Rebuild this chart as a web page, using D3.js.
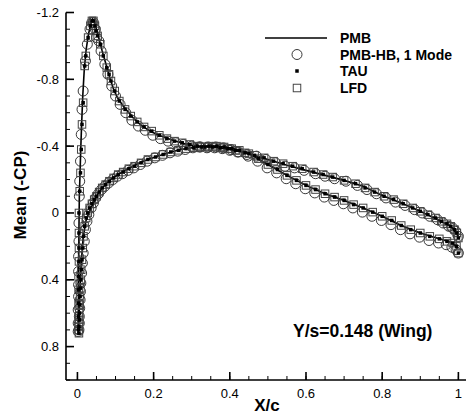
<!DOCTYPE html>
<html><head><meta charset="utf-8">
<script src="https://cdn.jsdelivr.net/npm/d3@7/dist/d3.min.js"></script>
<style>
html,body{margin:0;padding:0;background:#fff;}
text{font-family:"Liberation Sans",Arial,sans-serif;fill:#000;}
</style></head>
<body><svg id="c" width="469" height="419"></svg>
<script>
// ---- data ----
const seriesNames = ["PMB", "PMB-HB, 1 Mode", "TAU", "LFD"];
const xTicks = [0, 0.2, 0.4, 0.6, 0.8, 1];
const xTickLabels = ["0", "0.2", "0.4", "0.6", "0.8", "1"];
const yTicks = [-1.2, -0.8, -0.4, 0, 0.4, 0.8];
const yTickLabels = ["-1.2", "-0.8", "-0.4", "0", "0.4", "0.8"];

// PMB line, suction surface
const pmbUpperX = [0.002,0.003,0.004,0.005,0.007,0.009,0.011,0.014,0.018,0.023,0.029,0.035,0.040,0.045,0.050,0.057,0.065,0.075,0.085,0.095,0.105,0.120,0.135,0.150,0.170,0.195,0.220,0.250,0.280,0.310,0.350,0.400,0.450,0.500,0.550,0.600,0.650,0.700,0.750,0.800,0.850,0.900,0.950,0.980,1.000];
const pmbUpperV = [0.72,0.40,0.10,-0.10,-0.25,-0.40,-0.53,-0.70,-0.86,-0.98,-1.07,-1.13,-1.16,-1.14,-1.10,-1.04,-0.97,-0.89,-0.81,-0.74,-0.69,-0.64,-0.60,-0.56,-0.52,-0.485,-0.46,-0.435,-0.415,-0.40,-0.395,-0.38,-0.355,-0.32,-0.285,-0.255,-0.225,-0.195,-0.16,-0.105,-0.06,-0.01,0.045,0.08,0.14];
// PMB line, pressure surface
const pmbLowerX = [0.003,0.006,0.010,0.015,0.022,0.030,0.040,0.050,0.060,0.075,0.090,0.110,0.130,0.155,0.180,0.210,0.240,0.270,0.300,0.330,0.370,0.410,0.450,0.500,0.550,0.600,0.650,0.700,0.750,0.800,0.850,0.900,0.950,0.980,1.000];
const pmbLowerV = [0.70,0.50,0.30,0.15,0.05,0.00,-0.05,-0.10,-0.135,-0.175,-0.205,-0.235,-0.26,-0.29,-0.315,-0.34,-0.36,-0.38,-0.39,-0.40,-0.40,-0.385,-0.355,-0.29,-0.225,-0.165,-0.115,-0.075,-0.03,0.02,0.075,0.12,0.155,0.175,0.21];

// TAU (and LFD) points, suction surface
const tauUpperX = [0.003,0.003,0.003,0.003,0.003,0.004,0.004,0.004,0.004,0.006,0.008,0.010,0.012,0.015,0.019,0.022,0.028,0.034,0.038,0.042,0.046,0.049,0.053,0.060,0.068,0.077,0.083,0.088,0.098,0.110,0.125,0.140,0.157,0.175,0.195,0.215,0.235,0.255,0.275,0.295,0.315,0.335,0.355,0.375,0.395,0.415,0.440,0.465,0.490,0.515,0.540,0.565,0.590,0.620,0.645,0.670,0.700,0.730,0.755,0.780,0.805,0.830,0.855,0.880,0.900,0.920,0.940,0.955,0.970,0.980,0.990,0.996,1.000];
const tauUpperV = [0.70,0.62,0.54,0.46,0.38,0.29,0.21,0.12,0.00,-0.13,-0.24,-0.38,-0.53,-0.66,-0.88,-0.94,-1.05,-1.12,-1.15,-1.15,-1.12,-1.09,-1.06,-1.01,-0.94,-0.87,-0.83,-0.79,-0.73,-0.67,-0.62,-0.58,-0.545,-0.515,-0.49,-0.465,-0.445,-0.43,-0.42,-0.41,-0.40,-0.395,-0.395,-0.39,-0.385,-0.375,-0.36,-0.345,-0.33,-0.31,-0.295,-0.28,-0.265,-0.245,-0.23,-0.215,-0.195,-0.175,-0.15,-0.125,-0.10,-0.08,-0.055,-0.03,-0.01,0.01,0.03,0.05,0.065,0.08,0.10,0.12,0.15];
// TAU (and LFD) points, pressure surface
const tauLowerX = [0.004,0.004,0.005,0.005,0.006,0.007,0.008,0.009,0.010,0.012,0.014,0.016,0.019,0.023,0.027,0.032,0.038,0.044,0.050,0.057,0.065,0.074,0.084,0.095,0.107,0.120,0.135,0.150,0.167,0.185,0.205,0.225,0.245,0.265,0.285,0.305,0.325,0.345,0.365,0.385,0.405,0.425,0.450,0.475,0.500,0.525,0.550,0.575,0.600,0.625,0.650,0.675,0.700,0.725,0.750,0.775,0.800,0.825,0.850,0.875,0.900,0.925,0.950,0.970,0.985,0.995,1.000];
const tauLowerV = [0.72,0.68,0.64,0.60,0.55,0.50,0.45,0.40,0.34,0.28,0.21,0.14,0.08,0.03,0.00,-0.03,-0.055,-0.08,-0.10,-0.125,-0.15,-0.17,-0.19,-0.21,-0.23,-0.245,-0.265,-0.28,-0.30,-0.32,-0.335,-0.35,-0.365,-0.375,-0.385,-0.39,-0.395,-0.40,-0.40,-0.395,-0.385,-0.375,-0.355,-0.325,-0.29,-0.26,-0.225,-0.195,-0.165,-0.14,-0.115,-0.095,-0.075,-0.05,-0.03,-0.005,0.02,0.045,0.075,0.10,0.12,0.14,0.155,0.17,0.18,0.20,0.24];
const lfdUpperX = tauUpperX, lfdUpperV = tauUpperV;
const lfdLowerX = tauLowerX, lfdLowerV = tauLowerV;

// PMB-HB 1 mode points
const hbUpperX = [0.002,0.002,0.002,0.003,0.003,0.003,0.003,0.004,0.004,0.005,0.006,0.008,0.010,0.012,0.015,0.021,0.026,0.033,0.038,0.042,0.047,0.050,0.056,0.062,0.072,0.080,0.090,0.100,0.112,0.127,0.143,0.160,0.178,0.198,0.218,0.238,0.258,0.278,0.300,0.320,0.340,0.360,0.380,0.400,0.420,0.445,0.470,0.495,0.520,0.545,0.570,0.595,0.625,0.650,0.675,0.705,0.735,0.760,0.785,0.810,0.835,0.860,0.885,0.905,0.925,0.945,0.960,0.975,0.985,0.993,1.000];
const hbUpperV = [0.71,0.66,0.58,0.50,0.43,0.35,0.26,0.17,0.06,-0.10,-0.19,-0.31,-0.47,-0.62,-0.73,-0.91,-1.01,-1.10,-1.14,-1.14,-1.10,-1.05,-1.03,-0.97,-0.89,-0.83,-0.76,-0.70,-0.65,-0.60,-0.555,-0.52,-0.495,-0.465,-0.445,-0.43,-0.42,-0.41,-0.40,-0.395,-0.39,-0.39,-0.385,-0.375,-0.365,-0.35,-0.34,-0.32,-0.30,-0.28,-0.27,-0.255,-0.235,-0.22,-0.205,-0.19,-0.165,-0.14,-0.115,-0.09,-0.065,-0.045,-0.02,0.00,0.02,0.04,0.06,0.08,0.09,0.11,0.14];
const hbLowerX = [0.004,0.005,0.005,0.006,0.007,0.008,0.009,0.011,0.013,0.015,0.018,0.021,0.025,0.030,0.036,0.042,0.048,0.055,0.063,0.072,0.082,0.093,0.105,0.118,0.133,0.148,0.165,0.183,0.203,0.223,0.243,0.263,0.283,0.303,0.323,0.343,0.363,0.383,0.403,0.423,0.448,0.473,0.498,0.523,0.548,0.573,0.598,0.623,0.648,0.673,0.698,0.723,0.748,0.773,0.798,0.823,0.848,0.873,0.898,0.923,0.948,0.968,0.983,0.994,1.000];
const hbLowerV = [0.70,0.66,0.62,0.57,0.52,0.47,0.42,0.36,0.30,0.24,0.17,0.10,0.05,0.01,-0.03,-0.06,-0.09,-0.115,-0.14,-0.16,-0.18,-0.20,-0.22,-0.235,-0.255,-0.27,-0.29,-0.31,-0.33,-0.345,-0.36,-0.37,-0.38,-0.39,-0.395,-0.395,-0.395,-0.39,-0.38,-0.365,-0.34,-0.31,-0.27,-0.24,-0.205,-0.175,-0.145,-0.12,-0.095,-0.075,-0.055,-0.03,-0.005,0.02,0.045,0.07,0.10,0.125,0.145,0.165,0.18,0.19,0.205,0.22,0.24];

// ---- chart ----
const svg = d3.select("#c");
const x = d3.scaleLinear().domain([-0.03, 1.02]).range([66, 466]);
const y = d3.scaleLinear().domain([-1.2, 1.0]).range([12.5, 380]);

const zip = (xs, vs) => xs.map((d, i) => [d, vs[i]]);
const line = d3.line().x(d => x(d[0])).y(d => y(d[1]));

const plot = svg.append("g");
[zip(pmbUpperX, pmbUpperV), zip(pmbLowerX, pmbLowerV)].forEach(pts => {
  plot.append("path").attr("d", line(pts)).attr("fill", "none")
    .attr("stroke", "#000").attr("stroke-width", 1.6);
});

function circles(pts) {
  plot.append("g").selectAll("circle").data(pts).join("circle")
    .attr("cx", d => x(d[0])).attr("cy", d => y(d[1])).attr("r", 5)
    .attr("fill", "none").attr("stroke", "#222").attr("stroke-width", 0.9);
}
function squares(pts, s, filled) {
  plot.append("g").selectAll("rect").data(pts).join("rect")
    .attr("x", d => x(d[0]) - s / 2).attr("y", d => y(d[1]) - s / 2)
    .attr("width", s).attr("height", s)
    .attr("fill", filled ? "#000" : "none")
    .attr("stroke", filled ? "none" : "#444").attr("stroke-width", 1);
}
circles(zip(hbUpperX, hbUpperV)); circles(zip(hbLowerX, hbLowerV));
squares(zip(lfdUpperX, lfdUpperV), 7.5, false); squares(zip(lfdLowerX, lfdLowerV), 7.5, false);
squares(zip(tauUpperX, tauUpperV), 3.5, true); squares(zip(tauLowerX, tauLowerV), 3.5, true);

// axes
const xAxis = svg.append("g").attr("transform", "translate(0,380)");
xAxis.append("line").attr("x1", 66).attr("x2", 466).attr("stroke", "#000").attr("stroke-width", 1.6);
const xMinor = d3.range(0, 21).map(i => i * 0.05);
xAxis.selectAll(".mn").data(xMinor).join("line")
  .attr("x1", d => x(d)).attr("x2", d => x(d)).attr("y1", 0).attr("y2", -4)
  .attr("stroke", "#000").attr("stroke-width", 1);
xAxis.selectAll(".mj").data(xTicks).join("line")
  .attr("x1", d => x(d)).attr("x2", d => x(d)).attr("y1", 0).attr("y2", -8)
  .attr("stroke", "#000").attr("stroke-width", 1.6);
xAxis.selectAll("text").data(xTicks).join("text")
  .attr("x", d => x(d)).attr("y", 18).attr("text-anchor", "middle")
  .attr("font-size", 13).text((d, i) => xTickLabels[i]);

const yAxis = svg.append("g").attr("transform", "translate(66,0)");
yAxis.append("line").attr("y1", 12.5).attr("y2", 380).attr("stroke", "#000").attr("stroke-width", 1.6);
const yMinor = d3.range(0, 23).map(i => -1.2 + i * 0.1);
yAxis.selectAll(".mn").data(yMinor).join("line")
  .attr("y1", d => y(d)).attr("y2", d => y(d)).attr("x1", 0).attr("x2", 4)
  .attr("stroke", "#000").attr("stroke-width", 1);
yAxis.selectAll(".mj").data(yTicks).join("line")
  .attr("y1", d => y(d)).attr("y2", d => y(d)).attr("x1", 0).attr("x2", 8)
  .attr("stroke", "#000").attr("stroke-width", 1.6);
yAxis.selectAll("text").data(yTicks).join("text")
  .attr("x", -7).attr("y", d => y(d) + 4.5).attr("text-anchor", "end")
  .attr("font-size", 13).text((d, i) => yTickLabels[i]);

svg.append("text").attr("x", 267).attr("y", 411).attr("text-anchor", "middle")
  .attr("font-size", 17).attr("font-weight", "bold").text("X/c");
svg.append("text").attr("transform", "translate(25.5,195) rotate(-90)").attr("text-anchor", "middle")
  .attr("font-size", 17).attr("font-weight", "bold").text("Mean (-CP)");
svg.append("text").attr("x", 293).attr("y", 337)
  .attr("font-size", 17.5).attr("font-weight", "bold").text("Y/s=0.148 (Wing)");

// legend
const lg = svg.append("g");
const ly = [38, 54.5, 71, 88];
lg.append("line").attr("x1", 265).attr("x2", 327).attr("y1", ly[0]).attr("y2", ly[0])
  .attr("stroke", "#000").attr("stroke-width", 1.6);
lg.append("circle").attr("cx", 297).attr("cy", ly[1]).attr("r", 5)
  .attr("fill", "none").attr("stroke", "#222").attr("stroke-width", 0.9);
lg.append("rect").attr("x", 297 - 1.75).attr("y", ly[2] - 1.75).attr("width", 3.5).attr("height", 3.5).attr("fill", "#000");
lg.append("rect").attr("x", 297 - 3.75).attr("y", ly[3] - 3.75).attr("width", 7.5).attr("height", 7.5)
  .attr("fill", "none").attr("stroke", "#444");
lg.selectAll("text").data(seriesNames).join("text")
  .attr("x", 340).attr("y", (d, i) => ly[i] + 5).attr("font-size", 14).attr("font-weight", "bold").text(d => d);
</script></body></html>
